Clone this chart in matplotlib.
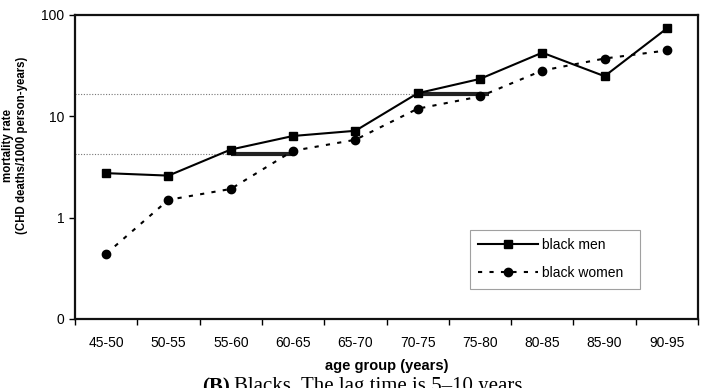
import numpy as np
import matplotlib
matplotlib.use('Agg')
import matplotlib.pyplot as plt
from matplotlib.ticker import FixedLocator, NullLocator

plt.rcParams['font.family'] = ['Liberation Sans', 'DejaVu Sans']

age_groups = ['45-50', '50-55', '55-60', '60-65', '65-70',
              '70-75', '75-80', '80-85', '85-90', '90-95']
black_men = [2.75, 2.6, 4.7, 6.4, 7.2, 16.9, 23.4, 42.5, 24.9, 73.7]
black_women = [0.44, 1.5, 1.92, 4.57, 5.87, 11.9, 15.7, 28.3, 37.2, 44.7]

# lag markers: level, start and end (in category index)
lag_levels = [4.24, 16.8]
lag_start = [2, 5]
lag_end = [3, 6.15]

y_ticks = [0.1, 1, 10, 100]
y_labels = ['0', '1', '10', '100']

fig = plt.figure(figsize=(7.05, 3.88), dpi=100)
ax = fig.add_axes([75 / 705, 1 - 319 / 388, 623 / 705, 304 / 388])

x = np.arange(len(age_groups))

for lvl, s, e in zip(lag_levels, lag_start, lag_end):
    ax.plot([-0.5, s], [lvl, lvl], color='#777777', lw=0.8,
            linestyle=(0, (1, 1.5)), zorder=1)
    ax.plot([s, e], [lvl, lvl], color='#222222', lw=3.0,
            solid_capstyle='butt', zorder=2)

ax.plot(x, black_men, color='black', lw=1.5, marker='s', markersize=6,
        label='black men', zorder=3)
ax.plot(x, black_women, color='black', lw=1.5, linestyle=(0, (2, 3.5)),
        marker='o', markersize=6, label='black women  ', zorder=3)

ax.set_yscale('log')
ax.set_ylim(0.1, 100)
ax.yaxis.set_major_locator(FixedLocator(y_ticks))
ax.yaxis.set_minor_locator(NullLocator())
ax.set_yticklabels(y_labels)

ax.set_xlim(-0.5, len(age_groups) - 0.5)
ax.set_xticks(np.arange(-0.5, len(age_groups), 1.0))
ax.set_xticklabels([])
ax.set_xticks(x, minor=True)
ax.set_xticklabels(age_groups, minor=True)
ax.tick_params(axis='x', which='major', direction='out', length=4, width=1)
ax.tick_params(axis='x', which='minor', length=0, pad=12, labelsize=10)
ax.tick_params(axis='y', direction='out', length=4, width=1, labelsize=10)

for sp in ax.spines.values():
    sp.set_linewidth(1.6)
    sp.set_color('#111111')

ax.set_xlabel('age group (years)', fontsize=10.5, fontweight='bold', labelpad=7)
fig.text(15 / 705, 1 - 145 / 388, 'mortality rate\n(CHD deaths/1000 person-years)',
         fontsize=8.3, fontweight='bold', rotation=90, ha='center', va='center',
         multialignment='center', linespacing=1.25)

leg = ax.legend(loc='upper left', bbox_to_anchor=((470 - 75) / 623, (319 - 230) / 304),
                borderaxespad=0, frameon=True, fancybox=False, fontsize=10,
                handlelength=4.3, borderpad=0.6, labelspacing=1.0, handletextpad=0.3)
leg.get_frame().set_edgecolor('#888888')
leg.get_frame().set_linewidth(0.8)

fig.text(202 / 705, 1 - 377 / 388, '(B)', family=['Liberation Serif', 'DejaVu Serif'],
         fontsize=15, fontweight='bold', ha='left', va='top')
fig.text(234 / 705, 1 - 377 / 388, 'Blacks. The lag time is 5–10 years',
         family=['Liberation Serif', 'DejaVu Serif'], fontsize=15, ha='left', va='top')

fig.savefig('out.png', dpi=100)
